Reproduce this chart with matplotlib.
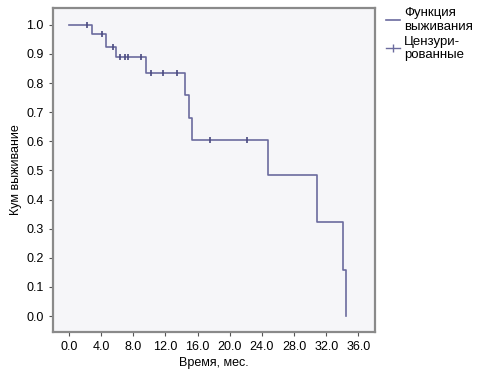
import matplotlib
matplotlib.use("Agg")
import matplotlib.pyplot as plt
from matplotlib.lines import Line2D

plt.rcParams['font.family'] = ['Liberation Sans', 'DejaVu Sans']

# Kaplan-Meier steps
eventTimes = [0.0, 2.9, 4.6, 5.9, 9.6, 14.4, 14.9, 15.3, 24.8, 30.9, 34.1, 34.5]
survival = [1.0, 0.968, 0.925, 0.888, 0.834, 0.758, 0.681, 0.606, 0.485, 0.324, 0.158, 0.0]

# censored observations
censorTimes = [2.3, 4.1, 5.5, 6.4, 7.0, 7.4, 8.9, 10.2, 11.7, 13.5, 17.6, 22.1]
censorSurv = [1.0, 0.968, 0.925, 0.888, 0.888, 0.888, 0.888, 0.834, 0.834, 0.834, 0.606, 0.606]

xTicks = [0, 4, 8, 12, 16, 20, 24, 28, 32, 36]
yTicks = [0.0, 0.1, 0.2, 0.3, 0.4, 0.5, 0.6, 0.7, 0.8, 0.9, 1.0]

lineColor = "#6b6b9e"

fig = plt.figure(figsize=(4.99, 3.80), dpi=100)
ax = fig.add_axes([0.106, 0.126, 0.646, 0.853])
ax.set_facecolor("#f6f6f9")

ax.step(eventTimes, survival, where="post", color=lineColor, linewidth=1.2)
ax.plot(censorTimes, censorSurv, linestyle="none", marker="|", markersize=5,
        markeredgewidth=1.2, color="#4a4a80")

ax.set_xlim(-2.0, 38.1)
ax.set_ylim(-0.055, 1.058)
ax.set_xticks(xTicks)
ax.set_xticklabels(["%.1f" % t for t in xTicks])
ax.set_yticks(yTicks)
ax.set_yticklabels(["%.1f" % t for t in yTicks])
ax.tick_params(labelsize=9, length=3, width=0.8, color="#555555")

for s in ax.spines.values():
    s.set_color("#8a8a8a")
    s.set_linewidth(1.6)

ax.set_xlabel("Время, мес.", fontsize=9, labelpad=3)
ax.set_ylabel("Кум выживание", fontsize=9, labelpad=3)

handles = [Line2D([], [], color=lineColor, linewidth=1.2),
           Line2D([], [], color=lineColor, marker="|", markersize=6, linewidth=1.0)]
fig.legend(handles, ["Функция\nвыживания", "Цензури-\nрованные"],
           loc="upper left", bbox_to_anchor=(0.762, 0.995), frameon=False,
           fontsize=9.5, handlelength=1.1, handletextpad=0.3,
           labelspacing=0.2, borderaxespad=0.0)

plt.savefig("out.png", dpi=100)
